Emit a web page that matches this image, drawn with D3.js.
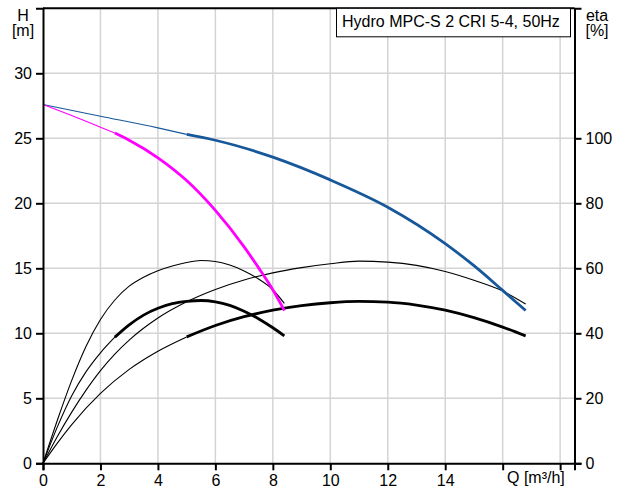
<!DOCTYPE html>
<html lang="en">
  <head>
    <meta charset="UTF-8" />
    <title>Hydro MPC-S 2 CRI 5-4</title>
    <style>
      body { margin: 0; background: #fff; }
      svg { display: block; font-family: "Liberation Sans", Arial, sans-serif; }
      .grid line { stroke: #d4d4d4; stroke-width: 1.5px; }
      .axis path, .axis line { stroke: #000; stroke-width: 2px; }
      .axis text { font-size: 16px; fill: #000; font-family: "Liberation Sans", Arial, sans-serif; }
    </style>
  </head>
  <body>
    <div class="chart"></div>
    <script src="https://d3js.org/d3.v7.min.js"></script>
    <script>

    var title = "Hydro MPC-S 2 CRI 5-4, 50Hz";

    // ticks
    var qTicks = [0, 2, 4, 6, 8, 10, 12, 14, 16, 18];
    var qLabels = [0, 2, 4, 6, 8, 10, 12, 14];
    var hTicks = [0, 5, 10, 15, 20, 25, 30];
    var etaTicks = [0, 20, 40, 60, 80, 100];

    // H curve, 1 pump (magenta), thick from q = 2.5
    var h1Q = [0, 1, 2, 2.5, 3, 4, 5, 6, 7, 7.5, 8, 8.4];
    var h1H = [27.6, 26.75, 25.85, 25.4, 24.85, 23.5, 21.75, 19.45, 16.65, 15.05, 13.35, 11.75];
    var h1Start = 2.5;

    // H curve, 2 pumps (blue), thick from q = 5
    var h2Q = [0, 2, 4, 5, 6, 8, 10, 12, 14, 15, 16, 16.8];
    var h2H = [27.6, 26.7, 25.8, 25.3, 24.85, 23.55, 21.8, 19.7, 16.9, 15.2, 13.3, 11.75];
    var h2Start = 5;

    // eta, 1 pump, thin
    var e1aQ = [0, 0.5, 1, 1.5, 2, 2.5, 3, 3.5, 4, 4.5, 5, 5.5, 6, 6.5, 7, 7.5, 8, 8.4];
    var e1aE = [0, 13.25, 25.5, 36.0, 44.25, 50.25, 54.5, 57.25, 59.25, 60.7, 61.8, 62.4, 62.1, 61.0, 59.2, 56.7, 53.4, 49.2];

    // eta, 1 pump, thick from q = 2.5
    var e1bQ = [0, 0.5, 1, 1.5, 2, 2.5, 3, 3.5, 4, 4.5, 5, 5.5, 6, 6.5, 7, 7.5, 8, 8.4];
    var e1bE = [0, 11.2, 20.8, 28.2, 34.0, 38.8, 42.6, 45.6, 47.7, 49.1, 49.8, 50.1, 49.7, 48.6, 46.8, 44.5, 41.7, 39.2];
    var e1bStart = 2.5;

    // eta, 2 pumps, thin
    var e2aQ = [0, 0.5, 1, 1.5, 2, 2.5, 3, 4, 5, 6, 7, 8, 9, 10, 11, 12, 13, 14, 15, 16, 16.8];
    var e2aE = [0, 8.25, 15.75, 22.5, 28.5, 33.6, 37.9, 44.7, 49.7, 53.5, 56.4, 58.6, 60.2, 61.4, 62.2, 61.9, 60.9, 59.0, 56.3, 53.0, 49.0];

    // eta, 2 pumps, thick from q = 5
    var e2bQ = [0, 0.5, 1, 2, 3, 4, 5, 6, 7, 8, 9, 10, 11, 12, 13, 14, 15, 16, 16.8];
    var e2bE = [0, 6.2, 11.9, 21.5, 28.9, 34.5, 38.9, 42.4, 45.1, 47.1, 48.5, 49.4, 49.8, 49.6, 48.7, 47.1, 44.8, 41.9, 39.2];
    var e2bStart = 5;

    var w = 619, h = 489;
    var svg = d3.select(".chart").append("svg")
      .attr("width", w)
      .attr("height", h);

    var x = d3.scaleLinear().domain([0, 18.5]).range([43, 574.5]);
    var y = d3.scaleLinear().domain([0, 35]).range([463.3, 8.3]);
    var yEta = d3.scaleLinear().domain([0, 140]).range([463.3, 8.3]);

    // grid
    var grid = svg.append("g").attr("class", "grid");
    grid.selectAll(".v")
      .data(qTicks.filter(function(d) { return d > 0; }))
      .enter().append("line")
      .attr("x1", function(d) { return x(d); })
      .attr("x2", function(d) { return x(d); })
      .attr("y1", y(0))
      .attr("y2", y(35));
    grid.selectAll(".hz")
      .data(hTicks.filter(function(d) { return d > 0; }))
      .enter().append("line")
      .attr("x1", x(0))
      .attr("x2", x(18.5))
      .attr("y1", function(d) { return y(d); })
      .attr("y2", function(d) { return y(d); });

    function zip(qs, vs) {
      return qs.map(function(q, i) { return [q, vs[i]]; });
    }

    function drawCurve(pts, scaleY, color, start) {
      var line = d3.line()
        .x(function(d) { return x(d[0]); })
        .y(function(d) { return scaleY(d[1]); })
        .curve(d3.curveMonotoneX);
      var thin = start == null ? pts : pts.filter(function(d) { return d[0] <= start; });
      svg.append("path")
        .attr("d", line(thin))
        .attr("fill", "none")
        .attr("stroke", color)
        .attr("stroke-width", 1.1);
      if (start != null) {
        svg.append("path")
          .attr("d", line(pts.filter(function(d) { return d[0] >= start; })))
          .attr("fill", "none")
          .attr("stroke", color)
          .attr("stroke-width", 2.8);
      }
    }

    drawCurve(zip(e1aQ, e1aE), yEta, "#000", null);
    drawCurve(zip(e2aQ, e2aE), yEta, "#000", null);
    drawCurve(zip(e1bQ, e1bE), yEta, "#000", e1bStart);
    drawCurve(zip(e2bQ, e2bE), yEta, "#000", e2bStart);
    drawCurve(zip(h2Q, h2H), y, "#17589a", h2Start);
    drawCurve(zip(h1Q, h1H), y, "#ff00ff", h1Start);

    // axes
    svg.append("g")
      .attr("class", "axis")
      .attr("transform", "translate(0," + y(0) + ")")
      .call(d3.axisBottom(x).tickValues(qTicks).tickSizeOuter(0).tickSize(7).tickPadding(4)
        .tickFormat(function(d) { return qLabels.indexOf(d) >= 0 ? d : ""; }));

    svg.append("g")
      .attr("class", "axis")
      .attr("transform", "translate(" + x(0) + ",0)")
      .call(d3.axisLeft(y).tickValues(hTicks).tickSizeOuter(0).tickSize(7).tickPadding(4));

    svg.append("g")
      .attr("class", "axis")
      .attr("transform", "translate(" + x(18.5) + ",0)")
      .call(d3.axisRight(yEta).tickValues(etaTicks).tickSizeOuter(0).tickSize(7).tickPadding(4));

    svg.append("line")
      .attr("x1", x(0)).attr("x2", x(18.5))
      .attr("y1", y(35)).attr("y2", y(35))
      .attr("stroke", "#000").attr("stroke-width", 2);

    // title box
    svg.append("rect")
      .attr("x", 336.5).attr("y", y(35))
      .attr("width", 234).attr("height", 28.5)
      .attr("fill", "#fff").attr("stroke", "#000").attr("stroke-width", 1);
    svg.append("text")
      .attr("x", 342).attr("y", 27)
      .attr("font-size", "16px")
      .text(title);

    // axis titles, two lines each
    var labels = [
      { lines: ["H", "[m]"], x: 23, y: 21 },
      { lines: ["eta", "[%]"], x: 597, y: 20.5 }
    ];
    labels.forEach(function(l) {
      var t = svg.append("text")
        .attr("x", l.x)
        .attr("y", l.y)
        .attr("text-anchor", "middle")
        .attr("font-size", "16px");
      l.lines.forEach(function(s, i) {
        t.append("tspan")
          .attr("x", l.x)
          .attr("dy", i == 0 ? 0 : 15)
          .text(s);
      });
    });

    svg.append("text")
      .attr("x", 507).attr("y", 483)
      .attr("font-size", "16px")
      .text("Q [m³/h]");

    </script>
  </body>
</html>
